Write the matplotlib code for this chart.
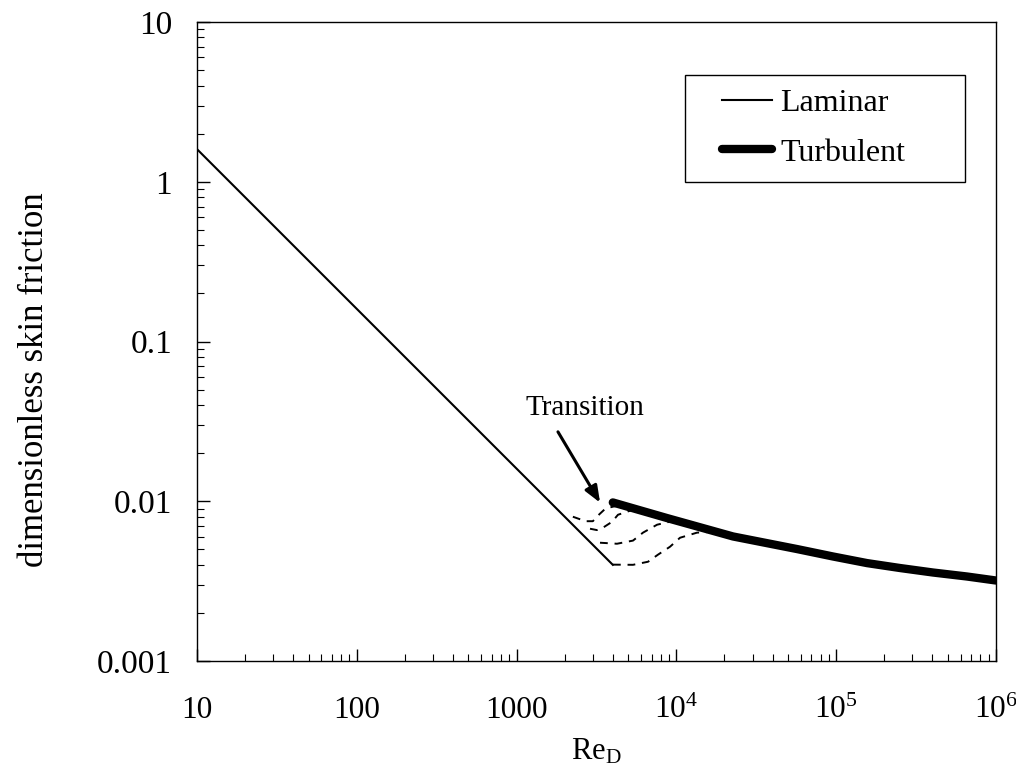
import matplotlib.pyplot as plt
import matplotlib as mpl
from matplotlib.patches import Rectangle

mpl.rcParams['font.family'] = ['Liberation Serif', 'DejaVu Serif']
mpl.rcParams['mathtext.fontset'] = 'custom'
mpl.rcParams['mathtext.rm'] = 'Liberation Serif'
mpl.rcParams['mathtext.it'] = 'Liberation Serif:italic'

# laminar f = 16/Re, two end points
lam_re = [10, 4000]
lam_f = [1.6, 0.004]

# turbulent curve
turb_re = [4000, 8730, 22600, 56900, 95500, 156000, 250600, 403300, 658000, 1000000]
turb_f = [0.00983, 0.00785, 0.00602, 0.00502, 0.00451, 0.0041, 0.00382, 0.00358, 0.00338, 0.00319]

# dashed transition curves
trA_re = [2250, 2700, 3000, 3300, 3600, 4100, 4600]
trA_f = [0.0080, 0.0075, 0.0075, 0.0083, 0.0090, 0.0093, 0.0094]
trB_re = [2880, 3180, 3470, 3960, 4310, 4910, 5270]
trB_f = [0.00673, 0.0066, 0.00683, 0.00744, 0.00823, 0.0086, 0.0088]
trC_re = [3326, 4250, 5350, 6180, 7570, 9120]
trC_f = [0.0055, 0.00542, 0.00567, 0.00636, 0.00713, 0.00745]
trD_re = [4009, 5350, 6640, 7670, 9120, 10540, 13460, 16950]
trD_f = [0.00401, 0.0040, 0.00418, 0.00463, 0.00519, 0.00591, 0.00636, 0.00644]

xticks = [10, 100, 1000, 1e4, 1e5, 1e6]
xlabels = ['10', '100', '1000', r'$10^4$', r'$10^5$', r'$10^6$']
yticks = [0.001, 0.01, 0.1, 1, 10]
ylabels = ['0.001', '0.01', '0.1', '1', '10']

fig = plt.figure(figsize=(10.16, 7.78), dpi=100)
ax = fig.add_axes([0.1939, 0.1504, 0.7864, 0.8213])

ax.plot(lam_re, lam_f, color='black', lw=1.5, label='Laminar')
ax.plot(turb_re, turb_f, color='black', lw=6, solid_capstyle='round', label='Turbulent')
for r, f in [(trA_re, trA_f), (trB_re, trB_f), (trC_re, trC_f), (trD_re, trD_f)]:
    ax.plot(r, f, color='black', lw=1.4, ls=(0, (4, 3.5)))

ax.set_xscale('log')
ax.set_yscale('log')
ax.set_xlim(10, 1e6)
ax.set_ylim(0.001, 10)
ax.set_xticks(xticks)
ax.set_xticklabels(xlabels, fontsize=22.5)
ax.set_yticks(yticks)
ax.set_yticklabels(ylabels, fontsize=24)
ax.tick_params(which='both', direction='in', top=False, right=False)
ax.tick_params(which='major', length=9, width=1)
ax.tick_params(which='minor', length=5, width=0.8)
ax.tick_params(axis='x', which='major', pad=25)
ax.tick_params(axis='y', which='major', pad=18)
for s in ax.spines.values():
    s.set_linewidth(1)

ax.set_xlabel(r'Re$_\mathregular{D}$', fontsize=22, labelpad=9)
ax.set_ylabel('dimensionless skin friction', fontsize=25)
ax.yaxis.set_label_coords(-0.183, 0.44)

# arrow and label for the transition region
ax.text(2680, 0.0385, 'Transition', fontsize=21, ha='center', va='center')
ax.annotate('', xy=(3330, 0.0098), xytext=(1815, 0.0272),
            arrowprops=dict(arrowstyle='-|>,head_length=1.0,head_width=0.4',
                            color='black', lw=2.2, shrinkA=0, shrinkB=0))

# legend box drawn by hand so the padding can differ per side
ax.add_patch(Rectangle((0.611, 0.7496), 0.3504, 0.1674, transform=ax.transAxes,
                       facecolor='white', edgecolor='black', lw=1, zorder=4))
leg = ax.legend(loc='center left', bbox_to_anchor=(0.6571, 0.834), borderaxespad=0,
                borderpad=0, fontsize=23, frameon=False,
                handlelength=1.55, handletextpad=0.27, labelspacing=0.64)
leg.set_zorder(5)

fig.savefig('out.png', dpi=100)
